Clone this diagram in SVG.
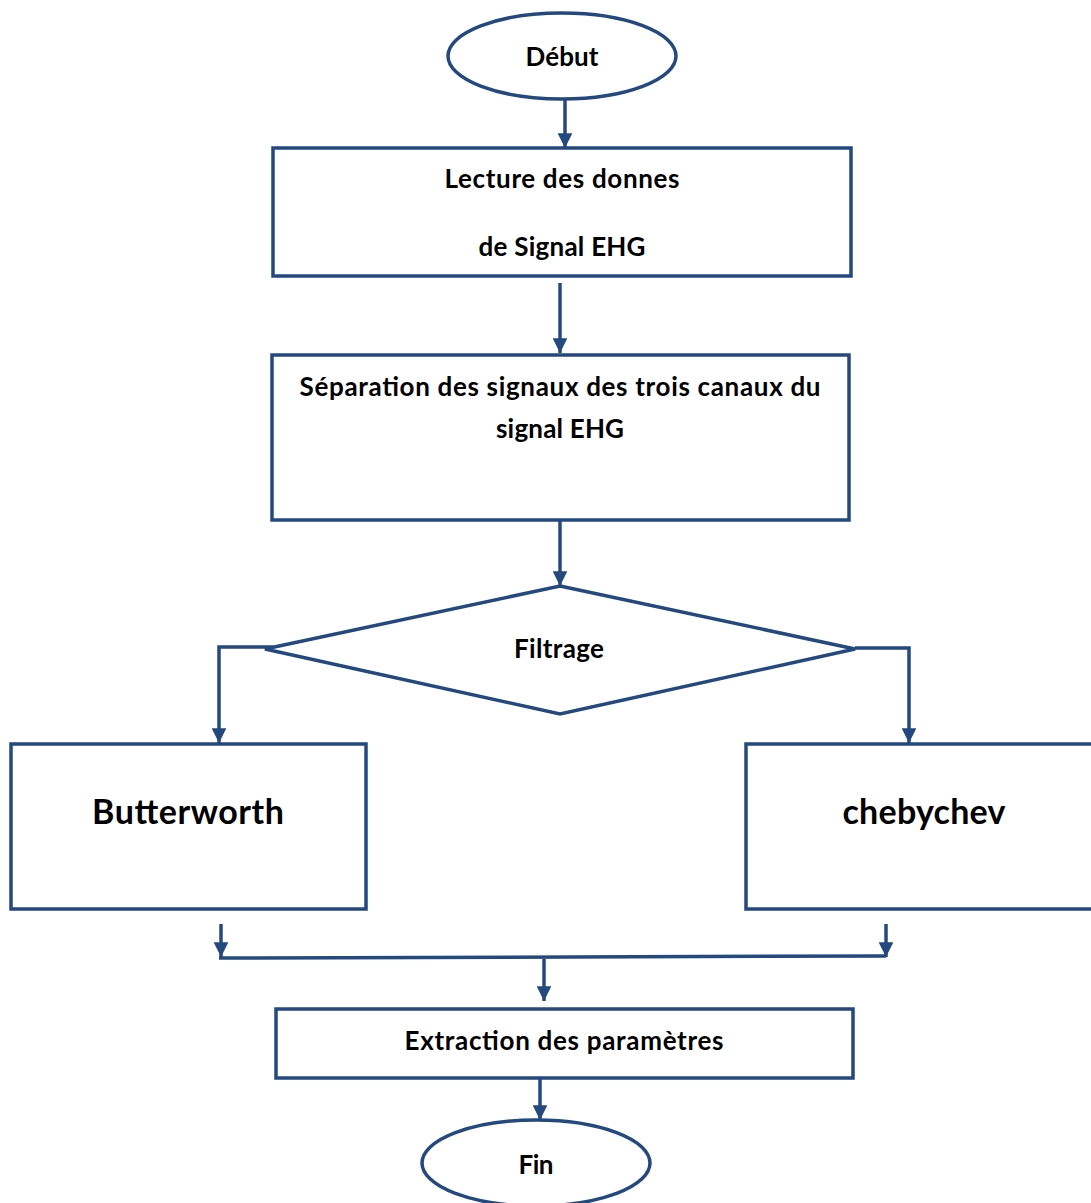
<svg xmlns="http://www.w3.org/2000/svg" width="1091" height="1203" viewBox="0 0 1091 1203">
<defs>
<style>
.s{fill:#fff;stroke:#24497f;stroke-width:3.5}
.c{fill:none;stroke:#24497f;stroke-width:3.5}
.t{font-family:Lato,"Liberation Sans",sans-serif;font-weight:bold;font-size:26px;fill:#000;text-anchor:middle;dominant-baseline:central}
.b{font-size:34px}
</style>
<marker id="a" viewBox="0 0 10 10" refX="10" refY="5" markerWidth="4.2" markerHeight="4.2" orient="auto" markerUnits="strokeWidth">
<path d="M0,0L10,5L0,10Z" fill="#24497f"/>
</marker>
</defs>
<rect width="1091" height="1203" fill="#fff"/>
<g id="connectors">
<line class="c" x1="565" y1="100" x2="565" y2="148" marker-end="url(#a)"/>
<line class="c" x1="560" y1="283" x2="560" y2="353" marker-end="url(#a)"/>
<line class="c" x1="560" y1="521" x2="560" y2="586" marker-end="url(#a)"/>
<polyline class="c" points="273,647 219,647 219,743" marker-end="url(#a)"/>
<polyline class="c" points="855,648 909,648 909,743" marker-end="url(#a)"/>
<line class="c" x1="221" y1="924" x2="221" y2="957" marker-end="url(#a)"/>
<line class="c" x1="886" y1="924" x2="886" y2="957" marker-end="url(#a)"/>
<line class="c" x1="219" y1="958" x2="886" y2="956"/>
<line class="c" x1="544" y1="959" x2="544" y2="1001" marker-end="url(#a)"/>
<line class="c" x1="540" y1="1078" x2="540" y2="1120" marker-end="url(#a)"/>
</g>
<g id="debut">
<ellipse class="s" cx="562" cy="56" rx="114" ry="43"/>
<text class="t" x="562" y="56" textLength="73">Début</text>
</g>
<g id="lecture">
<rect class="s" x="273" y="148" width="578" height="128"/>
<text class="t" x="562" y="178" textLength="235">Lecture des donnes</text>
<text class="t" x="562" y="246" textLength="167">de Signal EHG</text>
</g>
<g id="separation">
<rect class="s" x="272" y="355" width="577" height="165"/>
<text class="t" x="560" y="386" textLength="521">Séparation des signaux des trois canaux du</text>
<text class="t" x="560" y="428" textLength="128">signal EHG</text>
</g>
<g id="filtrage">
<polygon class="s" points="560,586 855,649 560,714 265,649"/>
<text class="t" x="559" y="648" textLength="90">Filtrage</text>
</g>
<g id="butterworth">
<rect class="s" x="11" y="744" width="355" height="165"/>
<text class="t b" x="188" y="810" textLength="192">Butterworth</text>
</g>
<g id="chebychev">
<rect class="s" x="746" y="744" width="360" height="165"/>
<text class="t b" x="924" y="810" textLength="163">chebychev</text>
</g>
<g id="extraction">
<rect class="s" x="276" y="1009" width="577" height="69"/>
<text class="t" x="564" y="1040" textLength="319">Extraction des paramètres</text>
</g>
<g id="fin">
<ellipse class="s" cx="536" cy="1163" rx="114" ry="43"/>
<text class="t" x="536" y="1164" textLength="35">Fin</text>
</g>
</svg>
